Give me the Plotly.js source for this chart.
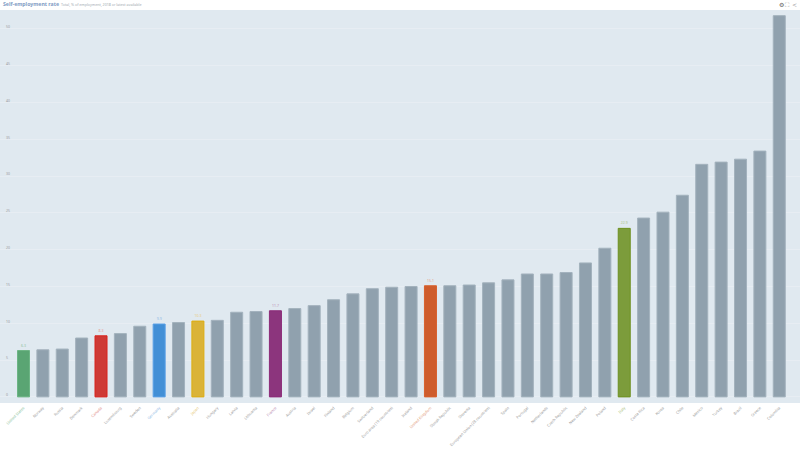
<!DOCTYPE html>
<html>
<head>
<meta charset="utf-8">
<script src="https://cdn.plot.ly/plotly-3.0.1.min.js"></script>
<style>html,body{margin:0;padding:0;background:#fff}#c{width:800px;height:449px}</style>
</head>
<body>
<div id="c"></div>
<script>
const categories = ["United States","Norway","Russia","Denmark","Canada","Luxembourg","Sweden","Germany","Australia","Japan","Hungary","Latvia","Lithuania","France","Austria","Israel","Finland","Belgium","Switzerland","Euro area (19 countries)","Iceland","United Kingdom","Slovak Republic","Slovenia","European Union (28 countries)","Spain","Portugal","Netherlands","Czech Republic","New Zealand","Poland","Italy","Costa Rica","Korea","Chile","Mexico","Turkey","Brazil","Greece","Colombia"];
const values = [6.3,6.4,6.5,8.0,8.3,8.6,9.6,9.9,10.1,10.3,10.4,11.5,11.6,11.7,12.0,12.4,13.2,14.0,14.7,14.9,15.0,15.1,15.1,15.2,15.5,15.9,16.7,16.7,16.9,18.2,20.2,22.9,24.3,25.1,27.4,31.6,31.9,32.3,33.4,51.8];
const highlightFill = {"United States":"#5AA573","Canada":"#CE3A36","Germany":"#428FD6","Japan":"#DAB338","France":"#8C357D","United Kingdom":"#CE5C2C","Italy":"#7C9C3B"};
const highlightLine = {"United States":"#6DB585","Canada":"#D9231D","Germany":"#5AA0E6","Japan":"#DDAD10","France":"#8C2A78","United Kingdom":"#D8602C","Italy":"#6E9020"};
const labelTint = {"United States":"#8FC4A0","Canada":"#E39490","Germany":"#8FBAE6","Japan":"#E8CB80","France":"#BC8FB5","United Kingdom":"#E4A283","Italy":"#AAC380"};
const tickVals = [0,5,10,15,20,25,30,35,40,45,50];
const greyFill = "#90A1AE";
const greyLine = "#A3B2BD";

const fills = categories.map(c => highlightFill[c] || greyFill);
const lines = categories.map(c => highlightLine[c] || greyLine);
const labels = categories.map((c,i) => highlightFill[c] ? values[i].toFixed(1) : "");
const labelColors = categories.map(c => labelTint[c] || "#a5a5a5");
const tickText = categories.map(c => labelTint[c] ? `<span style="color:${labelTint[c]}">${c}</span>` : c);

Plotly.newPlot("c", [{
  type: "bar",
  x: categories,
  y: values,
  width: 0.62,
  marker: {color: fills, line: {color: lines, width: 1}},
  text: labels,
  textposition: "outside",
  cliponaxis: false,
  textfont: {family: "Noto Sans", size: 3.5, color: labelColors},
  hoverinfo: "skip"
}], {
  width: 800, height: 449,
  margin: {l: 0, r: 0, t: 10, b: 46, pad: 0},
  paper_bgcolor: "#fff",
  plot_bgcolor: "#E0E9F0",
  showlegend: false,
  xaxis: {
    type: "category",
    categoryorder: "array",
    categoryarray: categories,
    tickmode: "array",
    tickvals: categories,
    ticktext: tickText,
    tickangle: -45,
    range: [-1.213, 40.07],
    ticks: "",
    showgrid: false,
    zeroline: false,
    showline: false,
    automargin: false,
    ticklabelstandoff: 1,
    tickfont: {family: "Noto Sans", size: 3.8, color: "#9a9a9a"}
  },
  yaxis: {
    range: [-0.83, 52.57],
    tickmode: "array",
    tickvals: tickVals,
    ticktext: tickVals.map(String),
    ticklabelposition: "inside",
    ticklabelshift: -2,
    ticklabelstandoff: 3,
    ticks: "",
    showgrid: true,
    gridcolor: "#E7EDF3",
    gridwidth: 1,
    zeroline: false,
    showline: false,
    automargin: false,
    tickfont: {family: "Noto Sans", size: 3.5, color: "#9a9a9a"}
  },
  annotations: [
    {x:1/800, y:(403-4.5)/393, xanchor:"left", yanchor:"middle", text:"<b>Self-employment rate</b>", font:{family:"Noto Sans", size:5.2, color:"#7F9CC4"}},
    {x:59/800, y:(403-4.5)/393, xanchor:"left", yanchor:"middle", text:"Total, % of employment, 2018 or latest available", font:{family:"Noto Sans", size:3.6, color:"#A0A9B1"}},
    {x:781/800, y:(403-4.5)/393, xanchor:"center", yanchor:"middle", text:"⚙", font:{family:"DejaVu Sans", size:6, color:"#666666"}},
    {x:787.5/800, y:(403-4.5)/393, xanchor:"center", yanchor:"middle", text:"⛶", font:{family:"DejaVu Sans", size:6, color:"#999999"}},
    {x:794.5/800, y:(403-4.5)/393, xanchor:"center", yanchor:"middle", text:"<", font:{family:"DejaVu Sans", size:6, color:"#999999"}}
  ].map(a => Object.assign(a, {xref:"paper", yref:"paper", showarrow:false}))
}, {displayModeBar: false, staticPlot: true});
</script>
</body>
</html>
